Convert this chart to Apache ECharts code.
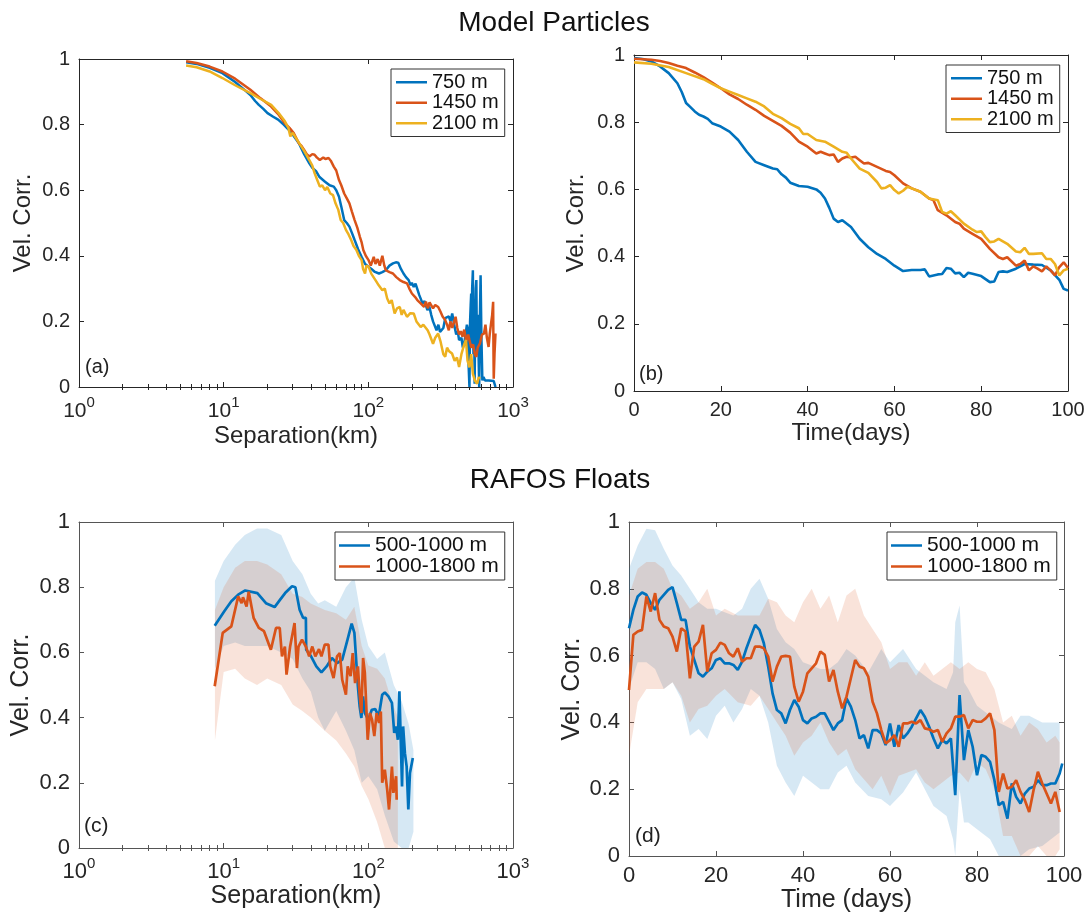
<!DOCTYPE html>
<html><head><meta charset="utf-8">
<script src="https://cdn.jsdelivr.net/npm/echarts@6/dist/echarts.min.js"></script>
<style>html,body{margin:0;padding:0;background:#fff}#c{width:1089px;height:916px}</style>
</head><body><div id="c"></div>
<script>
// ---------- tick values ----------
const yTicks = [0, 0.2, 0.4, 0.6, 0.8, 1];
const logMajor = [1, 10, 100, 1000];
const logMinor = [2,3,4,5,6,7,8,9,20,30,40,50,60,70,80,90,200,300,400,500,600,700,800,900];
const timeTicks = [0, 20, 40, 60, 80, 100];

// ---------- names ----------
const modelNames = ['750 m', '1450 m', '2100 m'];
const rafosNames = ['500-1000 m', '1000-1800 m'];

// ---------- panel (a): separation (km) vs corr ----------
const a750 = [[5.5,0.99],[6.5,0.985],[8,0.973],[9.8,0.957],[12,0.93],[14,0.905],[15.3,0.89],[16.5,0.872],[17.5,0.86],[18.8,0.848],[20.1,0.835],[22,0.824],[23.8,0.815],[26,0.80],[28.1,0.785],[30.5,0.765],[33.1,0.743],[36,0.71],[39.1,0.682],[41,0.668],[43.7,0.657],[46,0.64],[50.2,0.626],[54,0.615],[57.7,0.611],[60,0.60],[62.7,0.58],[65,0.55],[68.1,0.509],[71,0.50],[74,0.489],[77,0.47],[80.4,0.448],[85,0.42],[89.8,0.397],[95,0.375],[100.3,0.367],[105,0.36],[110,0.352],[118.5,0.346],[125,0.35],[132,0.356],[140,0.37],[148,0.377],[155,0.38],[161,0.379],[168,0.36],[175,0.346],[182,0.335],[190,0.326],[196,0.31],[200,0.318],[206,0.305],[212,0.315],[218,0.31],[225,0.28],[237,0.255],[245,0.262],[256,0.234],[264,0.245],[272,0.22],[280,0.2],[296,0.173],[305,0.19],[313,0.168],[321,0.163],[330,0.18],[340,0.21],[349,0.204],[360,0.215],[370,0.2],[380,0.224],[392,0.19],[405,0.16],[415,0.17],[424,0.143],[440,0.15],[450,0.12],[460,0.132],[470,0.16],[480,0.19],[486,0.18],[492,0.08],[500,0.0],[505,0.2],[510,0.25],[514,0.285],[518,0.12],[522,0.3],[528,0.356],[533,0.1],[538,0.25],[543,0.01],[548,0.2],[553,0.3],[558,0.326],[563,0.1],[568,0.22],[575,0.15],[584,0.0],[590,0.2],[597,0.341],[605,0.15],[614,0.02],[625,0.03],[641,0.02],[680,0.02],[736,0.018],[757,0.0]];
const a1450 = [[5.5,0.993],[6.5,0.988],[8,0.977],[9.8,0.962],[12,0.94],[15.3,0.906],[18,0.88],[21.3,0.855],[24,0.83],[26.5,0.804],[28.5,0.79],[30.5,0.774],[33.1,0.743],[34.5,0.735],[36,0.723],[37.5,0.71],[39.1,0.703],[41,0.71],[42.5,0.708],[44,0.70],[46.2,0.692],[48.8,0.70],[50.5,0.695],[53.1,0.698],[55,0.69],[57.7,0.672],[60,0.66],[62.7,0.631],[65,0.615],[68.1,0.59],[71,0.575],[74,0.56],[77,0.535],[80.4,0.509],[84,0.485],[87.4,0.458],[90,0.44],[92.3,0.418],[96,0.40],[100.3,0.387],[104,0.37],[109,0.397],[112,0.375],[116,0.39],[120,0.37],[125,0.40],[129,0.37],[132,0.356],[140,0.35],[148,0.346],[156,0.335],[165,0.326],[175,0.32],[185,0.316],[192,0.30],[200,0.285],[210,0.275],[218,0.265],[230,0.255],[243,0.244],[250,0.26],[258,0.24],[265,0.258],[272,0.255],[280,0.24],[290,0.25],[304,0.244],[315,0.23],[326,0.215],[340,0.204],[350,0.19],[360,0.173],[369,0.2],[380,0.18],[401,0.214],[412,0.18],[424,0.16],[436,0.17],[448,0.153],[460,0.175],[475,0.14],[490,0.16],[500,0.143],[515,0.12],[530,0.13],[545,0.1],[558,0.092],[570,0.12],[590,0.132],[610,0.16],[630,0.163],[645,0.19],[660,0.15],[678,0.122],[690,0.16],[705,0.193],[718,0.22],[729,0.26],[733,0.1],[736,0.025],[745,0.1],[757,0.163]];
const a2100 = [[5.5,0.98],[6.5,0.975],[8,0.962],[9.8,0.942],[12,0.92],[15.3,0.896],[18,0.878],[21.3,0.86],[24,0.835],[26.5,0.81],[28,0.79],[28.9,0.764],[30,0.775],[31.5,0.76],[33.1,0.745],[36,0.72],[39.1,0.692],[41,0.675],[42.5,0.652],[44,0.635],[46.2,0.611],[48,0.615],[50.2,0.60],[52,0.61],[54.6,0.59],[57,0.585],[59.3,0.56],[62,0.54],[64.4,0.509],[67,0.5],[70,0.479],[73,0.465],[76.1,0.448],[79,0.43],[82.7,0.418],[86,0.40],[89.8,0.387],[92,0.36],[94.9,0.346],[97,0.37],[100.3,0.367],[105,0.345],[112,0.326],[118,0.31],[125,0.295],[130,0.30],[135,0.27],[140,0.255],[145,0.265],[152,0.224],[158,0.24],[165,0.244],[170,0.22],[175,0.235],[185,0.214],[195,0.225],[206,0.224],[215,0.2],[230,0.183],[240,0.19],[257,0.173],[265,0.16],[280,0.132],[290,0.15],[304,0.163],[315,0.14],[330,0.1],[340,0.092],[350,0.12],[360,0.11],[379,0.102],[395,0.08],[410,0.09],[424,0.061],[440,0.1],[460,0.13],[473,0.143],[485,0.08],[500,0.06],[514,0.1],[528,0.04],[545,0.02],[565,0.01],[580,0.03],[590,0.025]];

// ---------- panel (b): time (days) vs corr ----------
const b750 = [[0,0.991],[2,0.988],[4,0.981],[6,0.966],[8,0.946],[10,0.916],[11,0.89],[12,0.857],[13,0.845],[14,0.832],[15,0.822],[16,0.817],[17,0.81],[18,0.797],[20,0.787],[22,0.772],[24,0.747],[26,0.712],[28,0.682],[30,0.672],[32,0.662],[33,0.66],[34,0.645],[35,0.635],[36,0.62],[38,0.61],[40,0.608],[42,0.60],[43,0.59],[44,0.573],[45,0.545],[46,0.513],[47,0.503],[48,0.508],[50,0.488],[52,0.453],[54,0.428],[56,0.408],[58,0.393],[60,0.373],[62,0.357],[64,0.36],[66,0.36],[67,0.362],[68,0.341],[70,0.347],[71,0.348],[72,0.366],[73,0.364],[74,0.35],[75,0.352],[76,0.339],[77,0.352],[78,0.349],[80,0.342],[82,0.324],[83,0.326],[84,0.354],[85,0.356],[86,0.354],[88,0.364],[90,0.378],[92,0.376],[94,0.375],[96,0.359],[98,0.331],[99,0.304],[100,0.299]];
const b1450 = [[0,0.989],[4,0.986],[6,0.982],[8,0.976],[10,0.968],[12,0.961],[14,0.948],[16,0.934],[18,0.918],[20,0.901],[22,0.883],[24,0.869],[26,0.852],[28,0.837],[30,0.819],[32,0.804],[34,0.789],[36,0.769],[38,0.742],[40,0.727],[42,0.707],[43,0.712],[44,0.707],[45,0.702],[46,0.704],[47,0.682],[48,0.692],[49,0.697],[50,0.695],[51,0.697],[52,0.687],[53,0.677],[54,0.679],[56,0.667],[58,0.655],[59,0.652],[60,0.642],[62,0.618],[64,0.603],[66,0.593],[68,0.573],[69,0.568],[70,0.538],[72,0.523],[74,0.503],[75,0.498],[76,0.483],[78,0.468],[80,0.453],[82,0.423],[84,0.398],[85,0.393],[86,0.398],[88,0.373],[89,0.378],[90,0.388],[91,0.359],[92,0.371],[93,0.364],[94,0.356],[95,0.371],[96,0.359],[97,0.344],[98,0.369],[99,0.383],[100,0.366]];
const b2100 = [[0,0.978],[4,0.974],[8,0.964],[12,0.946],[16,0.928],[18,0.914],[20,0.901],[22,0.891],[24,0.881],[26,0.871],[28,0.861],[30,0.847],[32,0.825],[34,0.812],[36,0.795],[38,0.782],[39,0.765],[40,0.765],[42,0.747],[44,0.742],[46,0.727],[48,0.712],[49,0.709],[50,0.692],[52,0.662],[54,0.649],[56,0.622],[57,0.603],[58,0.605],[59,0.613],[60,0.598],[61,0.588],[62,0.596],[63,0.608],[64,0.603],[66,0.593],[68,0.573],[70,0.568],[71,0.533],[72,0.528],[73,0.535],[74,0.523],[76,0.498],[78,0.48],[79,0.473],[80,0.475],[81,0.458],[82,0.443],[83,0.445],[84,0.453],[86,0.438],[88,0.415],[89,0.413],[90,0.426],[91,0.408],[92,0.408],[94,0.41],[95,0.393],[96,0.393],[97,0.378],[98,0.344],[99,0.359],[100,0.364]];

// ---------- panel (c): RAFOS separation ----------
const c500 = [[8.67,0.682],[10.1,0.726],[11.3,0.757],[12.6,0.777],[14.1,0.79],[17.1,0.782],[19.6,0.751],[22.5,0.739],[24.5,0.761],[26.6,0.782],[29.7,0.803],[31.3,0.80],[33.5,0.731],[35.4,0.706],[37,0.706],[37.2,0.608],[40.2,0.588],[43.7,0.557],[47.4,0.539],[51.5,0.557],[56,0.583],[60.8,0.567],[66,0.578],[71.8,0.639],[76.7,0.688],[80.1,0.66],[84.7,0.496],[87.1,0.434],[89.5,0.399],[92,0.465],[94.6,0.414],[100,0.394],[105.7,0.424],[111.7,0.426],[118,0.404],[124.7,0.47],[130,0.477],[137.7,0.465],[145.6,0.445],[151,0.353],[155.6,0.373],[160,0.332],[164,0.481],[167,0.353],[171,0.189],[174,0.373],[179,0.291],[184,0.25],[189,0.118],[194,0.23],[199.5,0.23],[203,0.276]];
const c1000 = [[8.67,0.496],[9.85,0.66],[11.3,0.68],[11.6,0.68],[12.6,0.772],[13.3,0.751],[13.6,0.769],[14.4,0.741],[14.9,0.786],[16.1,0.706],[17.5,0.675],[19,0.665],[21.2,0.608],[23,0.675],[24.4,0.675],[25.3,0.588],[26.5,0.618],[27.2,0.532],[28.8,0.618],[30.9,0.69],[32.1,0.552],[32.9,0.618],[34.8,0.639],[37,0.618],[39,0.588],[41,0.618],[43,0.588],[45.6,0.61],[47.4,0.588],[50,0.624],[53,0.624],[54.5,0.557],[57.5,0.521],[60.8,0.588],[63.5,0.598],[66,0.516],[70,0.47],[72,0.557],[75.4,0.527],[78,0.598],[81,0.506],[84.7,0.557],[87,0.475],[89.5,0.414],[92,0.583],[94.6,0.537],[99,0.332],[102.5,0.414],[106,0.394],[110,0.343],[114,0.414],[118.6,0.384],[122,0.419],[124.7,0.2],[130,0.24],[135,0.179],[139,0.118],[145.6,0.25],[149,0.169],[155.6,0.22],[157,0.148]];
// bands: [x, lower, upper]
const c500Band = [[8.7,0.55,0.82],[10,0.62,0.88],[12,0.63,0.93],[14,0.62,0.96],[17,0.62,0.98],[20,0.62,0.98],[25,0.60,0.96],[30,0.58,0.88],[35,0.52,0.84],[40,0.48,0.78],[45,0.40,0.75],[50,0.36,0.76],[60,0.42,0.74],[70,0.36,0.80],[80,0.30,0.83],[90,0.20,0.70],[100,0.22,0.62],[115,0.18,0.58],[130,0.10,0.60],[150,0.02,0.50],[170,0.0,0.45],[190,0.0,0.38],[205,0.05,0.30]];
const c1000Band = [[8.7,0.33,0.73],[10,0.54,0.80],[12,0.55,0.86],[14,0.52,0.88],[17,0.50,0.88],[20,0.52,0.87],[25,0.50,0.84],[30,0.44,0.78],[35,0.42,0.77],[40,0.40,0.75],[50,0.36,0.73],[60,0.33,0.72],[70,0.29,0.70],[80,0.25,0.74],[90,0.19,0.62],[100,0.15,0.56],[115,0.08,0.55],[130,0.0,0.52],[145,0.0,0.45],[160,0.0,0.40]];

// ---------- panel (d): RAFOS time ----------
const d500 = [[0,0.682],[1,0.737],[2,0.777],[3,0.789],[4,0.782],[5,0.757],[6,0.737],[7,0.767],[8,0.782],[9,0.797],[10,0.805],[11,0.757],[12,0.707],[13,0.707],[14,0.627],[15,0.587],[16,0.547],[17,0.537],[18,0.552],[19,0.562],[20,0.587],[21,0.592],[22,0.577],[23,0.577],[24,0.572],[25,0.557],[26,0.582],[27,0.622],[28,0.657],[29,0.692],[30,0.677],[31,0.637],[32,0.567],[33,0.487],[34,0.437],[35,0.427],[36,0.397],[37,0.437],[38,0.467],[39,0.447],[40,0.407],[41,0.397],[42,0.412],[43,0.417],[44,0.427],[45,0.427],[46,0.402],[47,0.377],[48,0.397],[49,0.407],[50,0.472],[51,0.447],[52,0.407],[53,0.352],[54,0.362],[55,0.322],[56,0.377],[57,0.377],[58,0.367],[59,0.332],[60,0.397],[61,0.327],[62,0.392],[63,0.352],[64,0.367],[65,0.387],[66,0.412],[67,0.437],[68,0.417],[69,0.387],[70,0.352],[71,0.322],[72,0.347],[73,0.337],[74,0.352],[75,0.182],[76,0.482],[77,0.287],[78,0.377],[79,0.327],[80,0.242],[81,0.302],[82,0.297],[83,0.282],[84,0.227],[85,0.152],[86,0.162],[87,0.112],[88,0.217],[89,0.177],[90,0.157],[91,0.187],[92,0.202],[93,0.207],[94,0.227],[95,0.212],[96,0.212],[97,0.217],[98,0.217],[99,0.247],[99.6,0.277]];
const d1000 = [[0,0.497],[1,0.662],[2,0.672],[3,0.677],[4,0.777],[5,0.732],[6,0.787],[7,0.707],[8,0.687],[9,0.682],[10,0.657],[11,0.612],[12,0.682],[13,0.672],[14,0.532],[15,0.627],[16,0.642],[17,0.692],[18,0.552],[19,0.607],[20,0.617],[21,0.639],[22,0.632],[23,0.607],[24,0.597],[25,0.622],[26,0.582],[27,0.592],[28,0.592],[29,0.627],[30,0.627],[31,0.622],[32,0.597],[33,0.522],[34,0.567],[35,0.597],[36,0.599],[37,0.597],[38,0.507],[39,0.462],[40,0.492],[41,0.547],[42,0.562],[43,0.577],[44,0.612],[45,0.602],[46,0.522],[47,0.557],[48,0.492],[49,0.442],[50,0.477],[51,0.532],[52,0.587],[53,0.567],[54,0.562],[55,0.537],[56,0.462],[57,0.427],[58,0.377],[59,0.337],[60,0.347],[61,0.362],[62,0.327],[63,0.397],[64,0.397],[65,0.402],[66,0.397],[67,0.407],[68,0.382],[69,0.379],[70,0.372],[71,0.377],[72,0.342],[73,0.367],[74,0.382],[75,0.417],[76,0.417],[77,0.422],[78,0.382],[79,0.407],[80,0.402],[81,0.402],[82,0.412],[83,0.427],[84,0.377],[85,0.192],[86,0.247],[87,0.202],[88,0.207],[89,0.227],[90,0.192],[91,0.167],[92,0.132],[93,0.197],[94,0.252],[95,0.217],[96,0.187],[97,0.157],[98,0.192],[99,0.132]];
const d500Band = [[0,0.50,0.86],[2,0.58,0.93],[4,0.58,0.98],[6,0.56,0.975],[8,0.50,0.92],[10,0.52,0.87],[12,0.47,0.84],[14,0.36,0.80],[16,0.38,0.76],[18,0.35,0.74],[20,0.42,0.74],[22,0.45,0.73],[24,0.40,0.72],[26,0.44,0.74],[28,0.50,0.80],[30,0.48,0.83],[32,0.40,0.77],[34,0.27,0.68],[36,0.22,0.64],[38,0.18,0.62],[40,0.24,0.58],[42,0.22,0.57],[44,0.20,0.56],[46,0.20,0.56],[48,0.25,0.58],[50,0.27,0.62],[52,0.22,0.60],[55,0.18,0.55],[58,0.17,0.62],[60,0.15,0.58],[63,0.19,0.62],[66,0.25,0.56],[70,0.15,0.52],[73,0.12,0.50],[74.5,0.05,0.55],[75,0.0,0.70],[76,0.20,0.75],[77,0.10,0.52],[78,0.10,0.50],[80,0.08,0.45],[83,0.05,0.42],[85,0.0,0.40],[88,0.0,0.38],[90,0.0,0.42],[92,0.02,0.42],[95,0.03,0.40],[99,0.07,0.40]];
const d1000Band = [[0,0.30,0.78],[2,0.46,0.86],[4,0.50,0.88],[6,0.50,0.88],[8,0.50,0.86],[10,0.52,0.80],[12,0.48,0.78],[14,0.40,0.74],[16,0.44,0.76],[18,0.45,0.80],[20,0.48,0.72],[22,0.50,0.74],[25,0.46,0.72],[28,0.45,0.72],[30,0.48,0.72],[32,0.44,0.77],[34,0.40,0.76],[36,0.36,0.72],[38,0.30,0.70],[40,0.34,0.76],[42,0.36,0.80],[44,0.40,0.74],[46,0.34,0.78],[48,0.30,0.70],[50,0.32,0.78],[52,0.26,0.80],[54,0.23,0.72],[56,0.20,0.68],[58,0.24,0.64],[60,0.18,0.56],[62,0.24,0.58],[64,0.25,0.58],[66,0.26,0.54],[68,0.22,0.58],[70,0.20,0.54],[72,0.22,0.56],[74,0.24,0.58],[76,0.25,0.56],[78,0.22,0.58],[80,0.28,0.56],[82,0.26,0.55],[84,0.20,0.50],[86,0.06,0.40],[88,0.06,0.42],[90,0.0,0.36],[92,0.0,0.40],[94,0.03,0.38],[96,0.0,0.34],[98,0.0,0.36],[99,0.02,0.34]];

// ---------- styling ----------
const FONT = '"Liberation Sans", Arial, Helvetica, sans-serif';
const C1 = '#0072BD', C2 = '#D95319', C3 = '#EDB120';
const AXC = '#262626';

const xAxes = [], yAxes = [], series = [];

function addYAxes(gi, o) {
  const base = {gridIndex: gi, type: 'value', min: 0, max: 1, interval: 0.2, splitLine: {show: false}};
  yAxes.push(Object.assign({}, base, {
    position: 'left', name: 'Vel. Corr.', nameLocation: 'middle', nameGap: o.nameGap,
    nameTextStyle: {fontSize: o.nameFs, color: AXC, fontFamily: FONT},
    axisLine: {show: true, onZero: false, lineStyle: {color: o.color}},
    axisTick: {show: true, inside: true, length: 5, lineStyle: {color: o.color}},
    axisLabel: {fontSize: o.fs, color: AXC, fontFamily: FONT, margin: o.margin}
  }));
  const idx = yAxes.length - 1;
  yAxes.push(Object.assign({}, base, {
    position: 'right',
    axisLine: {show: true, onZero: false, lineStyle: {color: o.color}},
    axisTick: {show: true, inside: true, length: 5, lineStyle: {color: o.color}},
    axisLabel: {show: false}
  }));
  return idx;
}

function addLogXAxes(gi, o) {
  const base = {gridIndex: gi, type: 'log', logBase: 10, min: 1, max: 1000, splitLine: {show: false}};
  const ls = {color: o.color};
  xAxes.push(Object.assign({}, base, {
    position: 'bottom', name: o.name, nameLocation: 'middle', nameGap: o.nameGap,
    nameTextStyle: {fontSize: o.nameFs, color: AXC, fontFamily: FONT},
    axisLine: {show: true, onZero: false, lineStyle: ls},
    axisTick: {show: true, inside: true, length: 5, customValues: logMajor, lineStyle: ls},
    axisLabel: {show: true, margin: o.margin, customValues: logMajor,
      formatter: v => '{b|10}{s|' + Math.round(Math.log10(v)) + '}',
      rich: {
        b: {fontSize: o.fs, color: AXC, fontFamily: FONT, verticalAlign: 'bottom'},
        s: {fontSize: o.sfs, color: AXC, fontFamily: FONT, verticalAlign: 'top', padding: [0, 0, o.sup, 0]}
      }}
  }));
  const idx = xAxes.length - 1;
  xAxes.push(Object.assign({}, base, {
    position: 'bottom', axisLine: {show: false},
    axisTick: {show: true, inside: true, length: 3, customValues: logMinor, lineStyle: ls},
    axisLabel: {show: false}
  }));
  xAxes.push(Object.assign({}, base, {
    position: 'top', axisLine: {show: true, onZero: false, lineStyle: ls},
    axisTick: {show: true, inside: true, length: 5, customValues: logMajor, lineStyle: ls},
    axisLabel: {show: false}
  }));
  xAxes.push(Object.assign({}, base, {
    position: 'top', axisLine: {show: false},
    axisTick: {show: true, inside: true, length: 3, customValues: logMinor, lineStyle: ls},
    axisLabel: {show: false}
  }));
  return idx;
}

function addTimeXAxes(gi, o) {
  const base = {gridIndex: gi, type: 'value', min: 0, max: 100, interval: 20, splitLine: {show: false}};
  const ls = {color: o.color};
  xAxes.push(Object.assign({}, base, {
    position: 'bottom', name: o.name, nameLocation: 'middle', nameGap: o.nameGap,
    nameTextStyle: {fontSize: o.nameFs, color: AXC, fontFamily: FONT},
    axisLine: {show: true, onZero: false, lineStyle: ls},
    axisTick: {show: true, inside: true, length: 5, lineStyle: ls},
    axisLabel: {fontSize: o.fs, color: AXC, fontFamily: FONT, margin: o.margin}
  }));
  const idx = xAxes.length - 1;
  xAxes.push(Object.assign({}, base, {
    position: 'top', axisLine: {show: true, onZero: false, lineStyle: ls},
    axisTick: {show: true, inside: true, length: 5, lineStyle: ls},
    axisLabel: {show: false}
  }));
  return idx;
}

function lineSeries(name, xi, yi, data, color, w) {
  return {type: 'line', name, xAxisIndex: xi, yAxisIndex: yi, data, showSymbol: false,
    symbol: 'none', z: 3, lineStyle: {color, width: w}, itemStyle: {color}, animation: false, clip: true};
}

function bandSeries(xi, yi, data, fill) {
  return {type: 'custom', xAxisIndex: xi, yAxisIndex: yi, silent: true, z: 1, animation: false, clip: true,
    data: data, encode: {x: 0, y: [1, 2]},
    renderItem: function (params, api) {
      if (params.dataIndex !== 0) return null;
      const pts = [];
      for (let i = 0; i < data.length; i++) pts.push(api.coord([data[i][0], data[i][2]]));
      for (let i = data.length - 1; i >= 0; i--) pts.push(api.coord([data[i][0], data[i][1]]));
      return {type: 'polygon', shape: {points: pts}, style: {fill: fill}};
    }};
}

const grids = [
  {left: 79, top: 59, width: 434, height: 328},
  {left: 634, top: 55, width: 434, height: 336},
  {left: 79, top: 522, width: 434, height: 326},
  {left: 629, top: 522, width: 435, height: 334}
];

// panel a
const axA = addLogXAxes(0, {name: 'Separation(km)', nameGap: 37, nameFs: 24, fs: 21, sfs: 15, sup: 12, margin: 8, color: AXC});
const ayA = addYAxes(0, {nameGap: 44, nameFs: 24, fs: 20, margin: 9, color: AXC});
series.push(lineSeries('750 m', axA, ayA, a750, C1, 2.5));
series.push(lineSeries('1450 m', axA, ayA, a1450, C2, 2.5));
series.push(lineSeries('2100 m', axA, ayA, a2100, C3, 2.5));
// panel b
const axB = addTimeXAxes(1, {name: 'Time(days)', nameGap: 30, nameFs: 24, fs: 20, margin: 9, color: AXC});
const ayB = addYAxes(1, {nameGap: 46, nameFs: 24, fs: 20, margin: 9, color: AXC});
series.push(lineSeries('750 m', axB, ayB, b750, C1, 2.6));
series.push(lineSeries('1450 m', axB, ayB, b1450, C2, 2.6));
series.push(lineSeries('2100 m', axB, ayB, b2100, C3, 2.6));
// panel c
const axC = addLogXAxes(2, {name: 'Separation(km)', nameGap: 30, nameFs: 25, fs: 22, sfs: 15, sup: 12, margin: 8, color: '#555'});
const ayC = addYAxes(2, {nameGap: 45, nameFs: 25, fs: 22, margin: 9, color: '#555'});
series.push(bandSeries(axC, ayC, c500Band, 'rgba(0,114,189,0.16)'));
series.push(bandSeries(axC, ayC, c1000Band, 'rgba(217,83,25,0.16)'));
series.push(lineSeries('500-1000 m', axC, ayC, c500, C1, 2.7));
series.push(lineSeries('1000-1800 m', axC, ayC, c1000, C2, 2.7));
// panel d
const axD = addTimeXAxes(3, {name: 'Time (days)', nameGap: 29, nameFs: 25, fs: 22, margin: 9, color: '#555'});
const ayD = addYAxes(3, {nameGap: 44, nameFs: 25, fs: 22, margin: 9, color: '#555'});
series.push(bandSeries(axD, ayD, d500Band, 'rgba(0,114,189,0.16)'));
series.push(bandSeries(axD, ayD, d1000Band, 'rgba(217,83,25,0.16)'));
series.push(lineSeries('500-1000 m', axD, ayD, d500, C1, 2.7));
series.push(lineSeries('1000-1800 m', axD, ayD, d1000, C2, 2.7));

function legend(left, top, names, fs, lh, pad) {
  return {left, top, orient: 'vertical', data: names, icon: 'rect', itemWidth: 31, itemHeight: 2.5,
    itemGap: 0, padding: pad, borderColor: '#333', borderWidth: 1, backgroundColor: '#fff',
    selectedMode: false,
    textStyle: {fontSize: fs, lineHeight: lh, color: '#111', fontFamily: FONT}};
}

function label(x, y, text, fs) {
  return {type: 'text', left: x, top: y, z: 10, style: {text, fontSize: fs, fill: '#222', fontFamily: FONT}};
}

const option = {
  backgroundColor: '#fff',
  animation: false,
  grid: grids,
  xAxis: xAxes,
  yAxis: yAxes,
  series: series,
  legend: [
    legend(391, 69, modelNames, 20, 20.5, [3, 6, 3, 5]),
    legend(946, 65, modelNames, 20, 20.5, [3, 6, 3, 5]),
    legend(335, 532, rafosNames, 21, 20.5, [3, 6, 3, 4]),
    legend(887, 532, rafosNames, 21, 20.5, [3, 6, 3, 4])
  ],
  graphic: [
    {type: 'text', x: 554, y: 23, style: {text: 'Model Particles', fontSize: 28, fill: '#111', fontFamily: FONT, align: 'center', verticalAlign: 'middle'}},
    {type: 'text', x: 560, y: 480, style: {text: 'RAFOS Floats', fontSize: 28, fill: '#111', fontFamily: FONT, align: 'center', verticalAlign: 'middle'}},
    label(85, 357, '(a)', 20),
    label(639, 364, '(b)', 20),
    label(84, 816, '(c)', 21),
    label(635, 826, '(d)', 21)
  ]
};

const chart = echarts.init(document.getElementById('c'), null, {renderer: 'canvas'});
chart.setOption(option);
</script>
</body></html>
